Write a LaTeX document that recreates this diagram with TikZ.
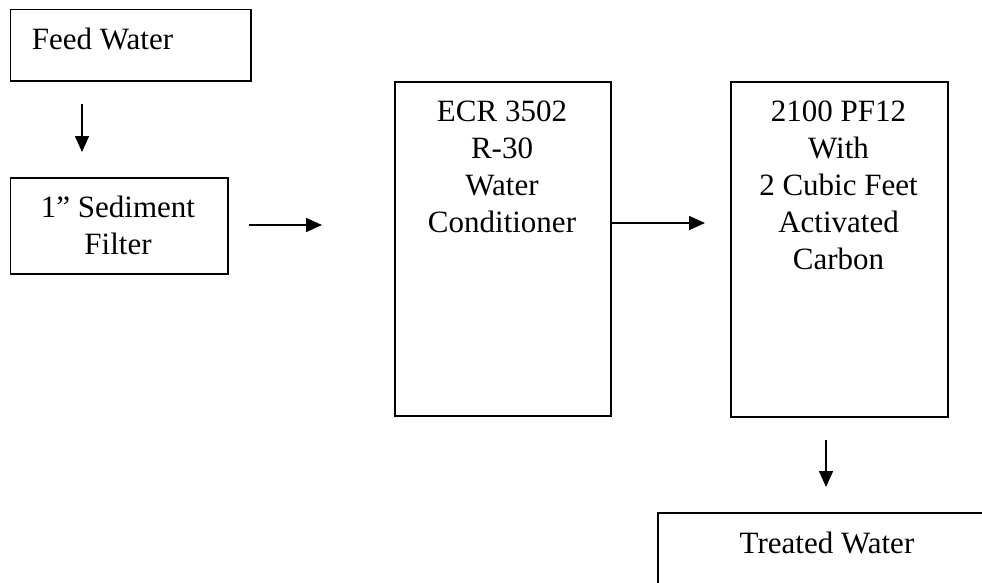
\documentclass[tikz,border=0pt]{standalone}
\usepackage{fontspec}
\setmainfont{Liberation Serif}
\usetikzlibrary{arrows.meta}
\begin{document}
\begin{tikzpicture}[x=1pt,y=-1pt,
  box/.style={draw=black, line width=1.6pt, rectangle, inner sep=0pt, anchor=north west},
  txt/.style={font=\fontsize{31}{37}\selectfont, align=center, inner sep=0pt, anchor=base},
  flow/.style={line width=1.6pt, -{Triangle[width=14pt,length=16pt]}}]
\useasboundingbox (0,0) rectangle (982,582);
\clip (0,0) rectangle (982,582);
% boxes
\node[box, minimum width=240.5pt, minimum height=71.5pt] (feed) at (9.5,8.5) {};
\node[box, minimum width=217.5pt, minimum height=96pt] (sed) at (9.5,177) {};
\node[box, minimum width=216pt, minimum height=334pt] (ecr) at (394,81) {};
\node[box, minimum width=217pt, minimum height=335pt] (pf) at (730,81) {};
\node[box, minimum width=353pt, minimum height=100pt] (treated) at (657,512) {};
% texts (anchor base = baseline of the last line)
\node[txt, anchor=base west] (feedtxt) at (31.7,49.3) {Feed Water};
\node[txt] (sedtxt) at (118,254) {1” Sediment\\Filter};
\node[txt] (ecrtxt) at (502,232.7) {ECR 3502\\R-30\\Water\\Conditioner};
\node[txt] (pftxt) at (838.5,269) {2100 PF12\\With\\2 Cubic Feet\\Activated\\Carbon};
\node[txt] (treatedtxt) at (827,553) {Treated Water};
% arrows
\coordinate (a1s) at (82,104);  \coordinate (a1e) at (82,152);
\coordinate (a2s) at (249,225); \coordinate (a2e) at (322,225);
\coordinate (a3s) at (610,223); \coordinate (a3e) at (705,223);
\coordinate (a4s) at (826,440); \coordinate (a4e) at (826,487);
\draw[flow] (a1s) -- (a1e);
\draw[flow] (a2s) -- (a2e);
\draw[flow] (a3s) -- (a3e);
\draw[flow] (a4s) -- (a4e);
\end{tikzpicture}
\end{document}
